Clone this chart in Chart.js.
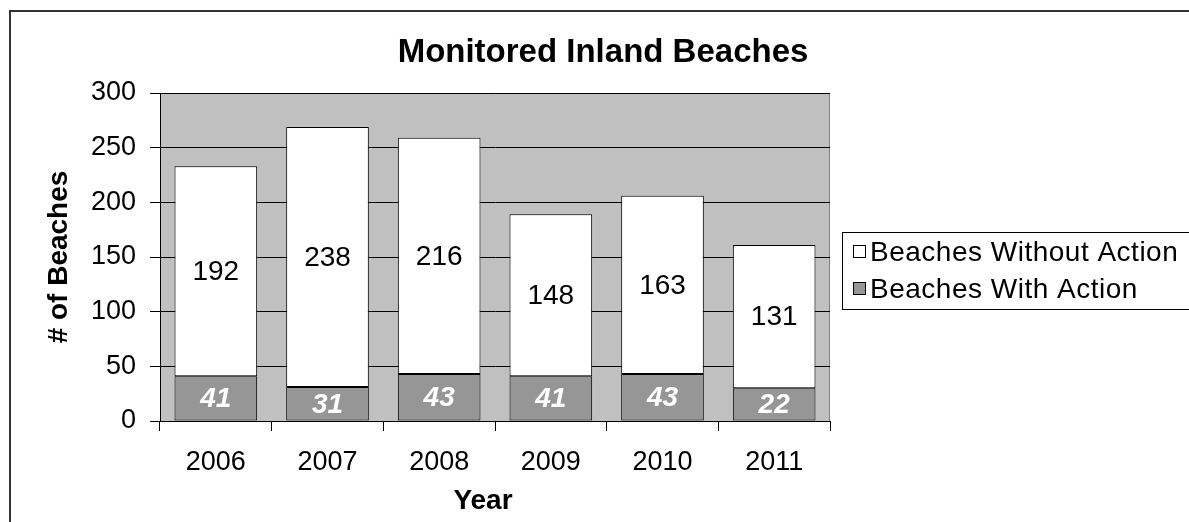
<!DOCTYPE html>
<html>
<head>
<meta charset="utf-8">
<script src="https://cdn.jsdelivr.net/npm/chart.js@4/dist/chart.umd.min.js"></script>
<style>
  html, body { margin: 0; padding: 0; background: #fff; }
  #wrap { width: 1189px; height: 522px; }
</style>
</head>
<body>
<div id="wrap"><canvas id="barChart"></canvas></div>
<script>
// data
var years = ['2006', '2007', '2008', '2009', '2010', '2011'];
var withAction = [41, 31, 43, 41, 43, 30];          // bar heights as drawn
var withActionLabels = ['41', '31', '43', '41', '43', '22']; // labels as printed
var withoutAction = [192, 238, 216, 148, 163, 131];
var seriesNames = ['Beaches With Action', 'Beaches Without Action'];

var FONT = '"Liberation Sans", Arial, sans-serif';
Chart.defaults.font.family = FONT;
Chart.defaults.color = '#000';

// background, plot area and outer frame
var bgPlugin = {
  id: 'bg',
  beforeDraw: function (chart) {
    var ctx = chart.ctx, a = chart.chartArea;
    ctx.save();
    ctx.fillStyle = '#fff';
    ctx.fillRect(0, 0, chart.width, chart.height);
    ctx.fillStyle = '#C0C0C0';
    ctx.fillRect(a.left, a.top, a.right - a.left, a.bottom - a.top);
    ctx.strokeStyle = '#808080';
    ctx.lineWidth = 1;
    ctx.strokeRect(a.left + 0.5, a.top + 0.5, a.right - a.left - 1, a.bottom - a.top);
    // outer frame (left + top)
    ctx.strokeStyle = '#333';
    ctx.lineWidth = 2;
    ctx.beginPath();
    ctx.moveTo(10, chart.height + 2);
    ctx.lineTo(10, 11);
    ctx.lineTo(chart.width + 2, 11);
    ctx.stroke();
    ctx.restore();
  }
};

// value labels, titles, legend
var textPlugin = {
  id: 'texts',
  afterDatasetsDraw: function (chart) {
    var ctx = chart.ctx;
    ctx.save();
    ctx.textAlign = 'center';
    ctx.textBaseline = 'middle';
    chart.data.datasets.forEach(function (ds, i) {
      var meta = chart.getDatasetMeta(i);
      meta.data.forEach(function (el, j) {
        var y = (el.y + el.base) / 2;
        if (i === 0) {
          ctx.font = 'italic bold 28px ' + FONT;
          ctx.fillStyle = '#fff';
          ctx.fillText(withActionLabels[j], el.x, y + 1);
        } else {
          ctx.font = '28px ' + FONT;
          ctx.fillStyle = '#000';
          ctx.fillText(String(ds.data[j]), el.x, y + 1);
        }
      });
    });
    ctx.restore();
  },
  afterDraw: function (chart) {
    var ctx = chart.ctx;
    ctx.save();
    ctx.fillStyle = '#000';
    // title
    ctx.font = 'bold 33px ' + FONT;
    ctx.textAlign = 'center';
    ctx.textBaseline = 'alphabetic';
    ctx.fillText('Monitored Inland Beaches', 603, 62);
    // axis titles
    ctx.font = 'bold 28px ' + FONT;
    ctx.fillText('Year', 483, 509);
    ctx.save();
    ctx.translate(67, 257);
    ctx.rotate(-Math.PI / 2);
    ctx.fillText('# of Beaches', 0, 0);
    ctx.restore();
    // legend
    ctx.strokeStyle = '#000';
    ctx.lineWidth = 1;
    ctx.strokeRect(842.5, 232.5, 360, 77);
    var rows = [
      { name: seriesNames[1], fill: chart.data.datasets[1].backgroundColor, y: 252 },
      { name: seriesNames[0], fill: chart.data.datasets[0].backgroundColor, y: 289 }
    ];
    ctx.font = '28px ' + FONT;
    ctx.letterSpacing = '0.5px';
    ctx.textAlign = 'left';
    ctx.textBaseline = 'middle';
    rows.forEach(function (r) {
      ctx.fillStyle = r.fill;
      ctx.fillRect(853, r.y - 7, 13, 13);
      ctx.strokeStyle = '#000';
      ctx.strokeRect(853.5, r.y - 6.5, 12, 12);
      ctx.fillStyle = '#000';
      ctx.fillText(r.name, 870, r.y + 1);
    });
    ctx.restore();
  }
};

var chart = new Chart('barChart', {
  type: 'bar',
  data: {
    labels: years,
    datasets: [
      {
        label: seriesNames[0],
        data: withAction,
        backgroundColor: '#969696',
        borderColor: '#000',
        borderWidth: 1,
        borderSkipped: false,
        barPercentage: 0.74,
        categoryPercentage: 1
      },
      {
        label: seriesNames[1],
        data: withoutAction,
        backgroundColor: '#ffffff',
        borderColor: '#000',
        borderWidth: 1,
        borderSkipped: false,
        barPercentage: 0.74,
        categoryPercentage: 1
      }
    ]
  },
  options: {
    responsive: true,
    maintainAspectRatio: false,
    animation: false,
    devicePixelRatio: 1,
    layout: { padding: { left: 10, right: 359, top: 93, bottom: 0 } },
    plugins: {
      legend: { display: false },
      title: { display: false },
      tooltip: { enabled: false }
    },
    scales: {
      x: {
        stacked: true,
        grid: { display: true, drawOnChartArea: false, drawTicks: true, tickLength: 10, color: '#000', offset: true },
        border: { display: true, color: '#000' },
        ticks: { font: { size: 27 }, color: '#000', padding: 15, maxRotation: 0 },
        afterFit: function (s) { s.height = 101; }
      },
      y: {
        stacked: true,
        min: 0,
        max: 300,
        ticks: { stepSize: 50, font: { size: 27 }, color: '#000', padding: 14 },
        grid: { color: '#000', tickLength: 10 },
        border: { display: true, color: '#000' },
        afterFit: function (s) { s.width = 150; }
      }
    }
  },
  plugins: [bgPlugin, textPlugin]
});
</script>
</body>
</html>
